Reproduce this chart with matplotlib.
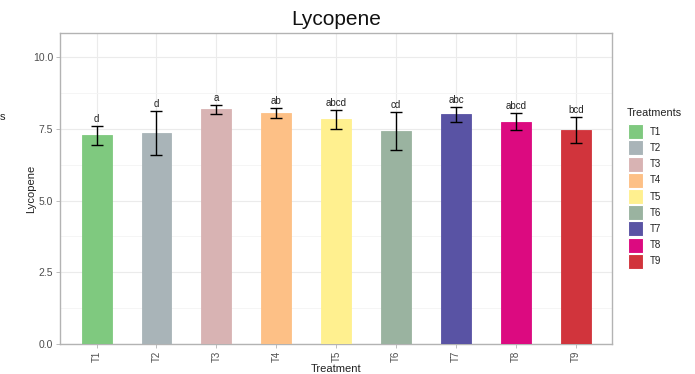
import matplotlib
matplotlib.use("Agg")
import matplotlib.pyplot as plt
from matplotlib.patches import Rectangle
from matplotlib.ticker import MultipleLocator
import numpy as np

# --- data ---
treatments = ["T1", "T2", "T3", "T4", "T5", "T6", "T7", "T8", "T9"]
means = [7.28, 7.36, 8.18, 8.06, 7.84, 7.42, 8.00, 7.75, 7.47]
errors = [0.33, 0.77, 0.15, 0.17, 0.33, 0.67, 0.26, 0.30, 0.45]
letters = ["d", "d", "a", "ab", "abcd", "cd", "abc", "abcd", "bcd"]
colors = ["#7FC97F", "#A9B4B8", "#D8B3B3", "#FDC086", "#FFF08F",
          "#9AB3A0", "#5953A4", "#DC0A80", "#D1343C"]

TEXT = "#4d4d4d"
GRID = "#ebebeb"
MINOR = "#f4f4f4"
BORDER = "#b3b3b3"

plt.rcParams["font.family"] = ["Liberation Sans", "DejaVu Sans"]

W, H = 695, 374
fig = plt.figure(figsize=(W / 100, H / 100), dpi=100)
ax = fig.add_axes([60 / W, 1 - 344 / H, (612 - 60) / W, (344 - 33) / H])

x = np.arange(1, len(treatments) + 1)
ax.bar(x, means, width=0.5, color=colors, edgecolor=colors, linewidth=0.6, zorder=3)
ax.errorbar(x, means, yerr=errors, fmt="none", ecolor="black", elinewidth=1.0,
            capsize=4.3, capthick=1.0, zorder=4)
for xi, m, e, lab in zip(x, means, errors, letters):
    ax.annotate(lab, xy=(xi, m + e), xytext=(0, 1.5), textcoords="offset points",
                ha="center", va="bottom", fontsize=7, color="#222222")

ax.set_xlim(0.39, 9.6)
ax.set_ylim(0, 10.84)
ax.set_xticks(x)
ax.set_xticklabels(treatments, rotation=90, fontsize=7, color=TEXT)
ax.yaxis.set_major_locator(MultipleLocator(2.5))
ax.yaxis.set_minor_locator(MultipleLocator(1.25))
ax.set_yticks([0, 2.5, 5, 7.5, 10])
ax.set_yticklabels(["0.0", "2.5", "5.0", "7.5", "10.0"], fontsize=7.5, color=TEXT)
ax.tick_params(axis="both", which="major", length=3, width=0.6, color=BORDER, pad=2)
ax.tick_params(axis="y", which="minor", length=0)
ax.grid(True, which="major", color=GRID, linewidth=0.8, zorder=0)
ax.yaxis.grid(True, which="minor", color=MINOR, linewidth=0.6, zorder=0)
ax.set_axisbelow(True)
for sp in ax.spines.values():
    sp.set_color(BORDER)
    sp.set_linewidth(1.0)

ax.set_xlabel("Treatment", fontsize=8, color="#222222", labelpad=1)
ax.set_ylabel("Lycopene", fontsize=8, color="#222222", labelpad=-2.5)
ax.set_title("Lycopene", fontsize=15, color="#111111", pad=6)

# clipped fragment of a label at the left edge
fig.text(-0.001, 1 - 117 / H, "s", fontsize=8, color="#222222", ha="left", va="center")

# legend, drawn in a pixel-coordinate overlay axes
lax = fig.add_axes([0, 0, 1, 1], facecolor="none")
lax.set_xlim(0, W)
lax.set_ylim(H, 0)
lax.axis("off")
lax.text(627, 113, "Treatments", fontsize=7.8, color="#222222", ha="left", va="center")
key, pitch, top = 15, 16.2, 131.7
for i, (c, t) in enumerate(zip(colors, treatments)):
    yc = top + i * pitch
    lax.add_patch(Rectangle((628, yc - key / 2), key, key, facecolor=c,
                            edgecolor="white", linewidth=0.8))
    lax.text(650, yc, t, fontsize=7, color="#222222", ha="left", va="center")

fig.savefig("out.png", dpi=100)
